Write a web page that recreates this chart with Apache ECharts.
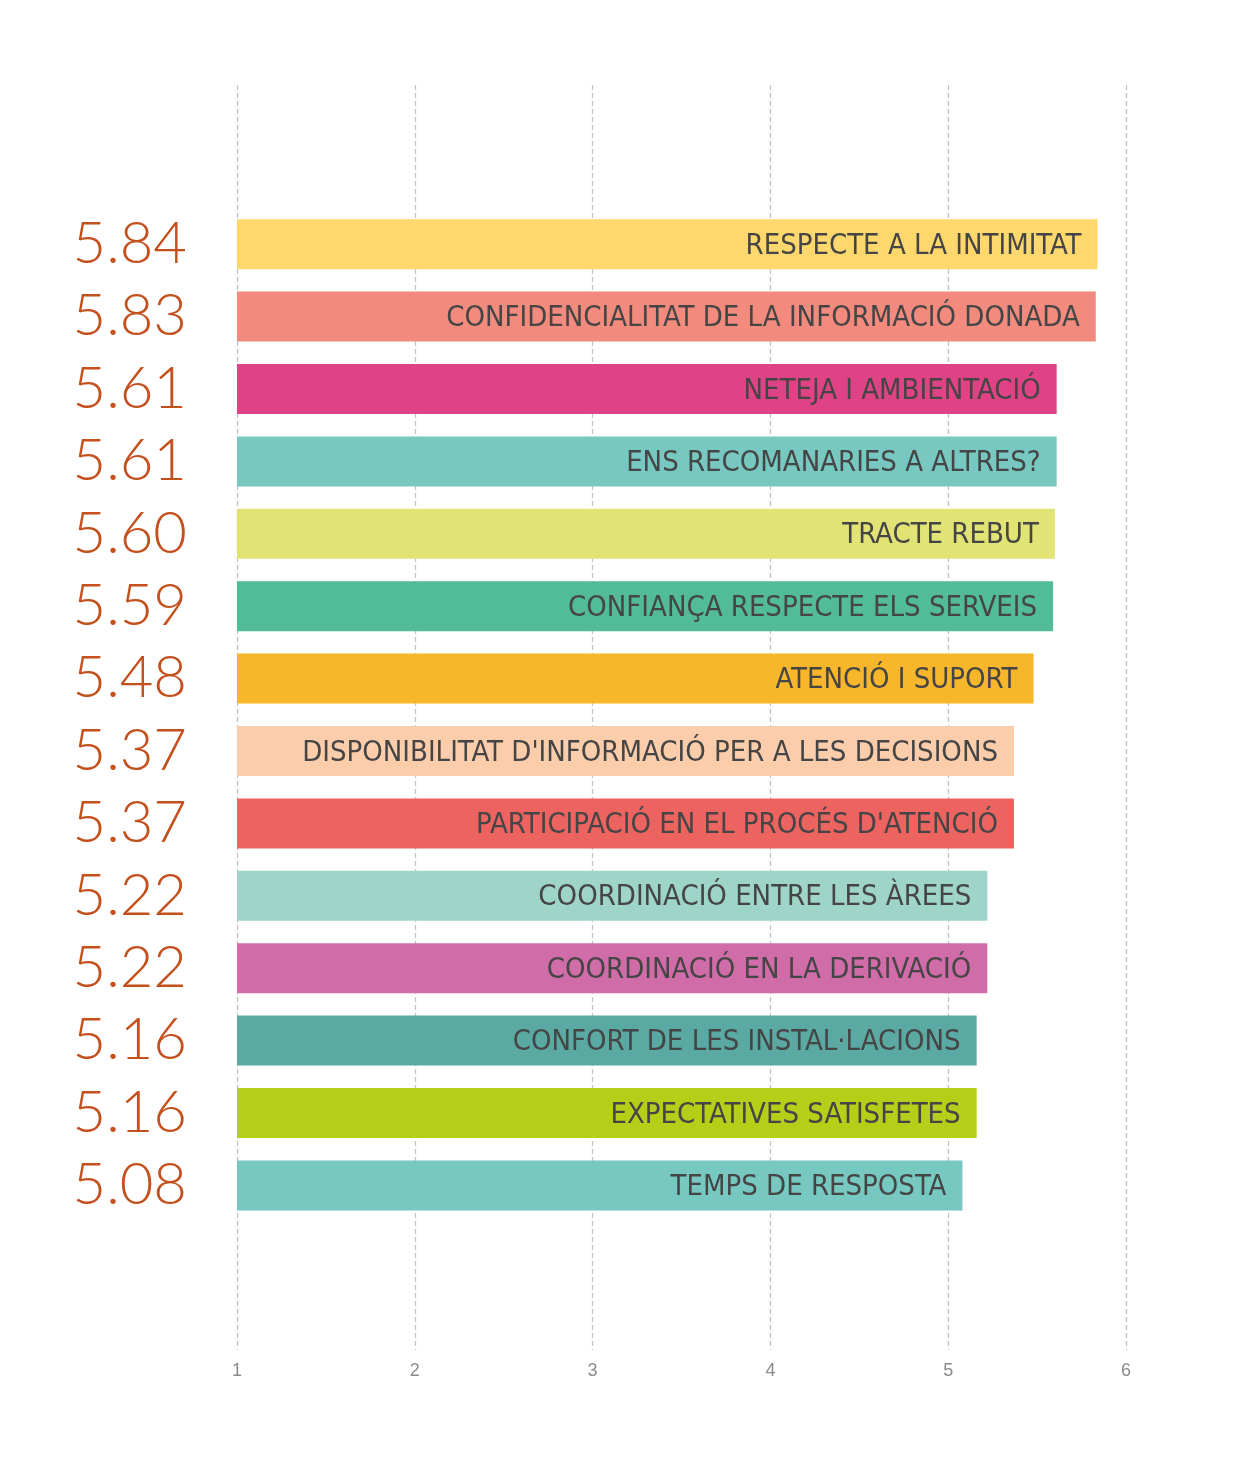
<!DOCTYPE html>
<html>
<head>
<meta charset="utf-8">
<script src="https://cdn.jsdelivr.net/npm/echarts@6/dist/echarts.min.js"></script>
<style>
html,body{margin:0;padding:0;background:#fff;}
#chart{width:1256px;height:1469px;}
</style>
</head>
<body>
<div id="chart"></div>
<script>
const categories = [
  "RESPECTE A LA INTIMITAT",
  "CONFIDENCIALITAT DE LA INFORMACIÓ DONADA",
  "NETEJA I AMBIENTACIÓ",
  "ENS RECOMANARIES A ALTRES?",
  "TRACTE REBUT",
  "CONFIANÇA RESPECTE ELS SERVEIS",
  "ATENCIÓ I SUPORT",
  "DISPONIBILITAT D'INFORMACIÓ PER A LES DECISIONS",
  "PARTICIPACIÓ EN EL PROCÉS D'ATENCIÓ",
  "COORDINACIÓ ENTRE LES ÀREES",
  "COORDINACIÓ EN LA DERIVACIÓ",
  "CONFORT DE LES INSTAL·LACIONS",
  "EXPECTATIVES SATISFETES",
  "TEMPS DE RESPOSTA"
];
const values = [5.84, 5.83, 5.61, 5.61, 5.60, 5.59, 5.48, 5.37, 5.37, 5.22, 5.22, 5.16, 5.16, 5.08];
const colors = ["#fed76d","#f28b7d","#e04385","#76c8c0","#e1e474","#52bb98","#f8b62a","#fbcdab","#ec6360","#9fd4c9","#d06ca8","#5aa9a3","#b5cf18","#76c8c0"];
const xTicks = [1, 2, 3, 4, 5, 6];

const chart = echarts.init(document.getElementById('chart'), null, {renderer: 'canvas'});
chart.setOption({
  backgroundColor: '#ffffff',
  animation: false,
  grid: [
    {left: 237, right: 130, top: 85, bottom: 119},
    {left: 237, right: 130, top: 208, height: 1013.6}
  ],
  xAxis: [
    {
      gridIndex: 0, type: 'value', min: xTicks[0], max: xTicks[xTicks.length-1], interval: 1,
      axisLine: {show: false}, axisTick: {show: false},
      axisLabel: {color: '#8a8a8a', fontSize: 18, margin: 12, fontFamily: 'Liberation Sans'},
      splitLine: {show: true, lineStyle: {color: '#c4c4c4', type: [5, 3], width: 1.3}}
    },
    {
      gridIndex: 1, type: 'value', min: xTicks[0], max: xTicks[xTicks.length-1], interval: 1,
      show: false
    }
  ],
  yAxis: [
    {gridIndex: 0, type: 'category', data: [''], show: false},
    {
      gridIndex: 1, type: 'category', data: categories, inverse: true,
      axisLine: {show: false}, axisTick: {show: false}, splitLine: {show: false},
      axisLabel: {
        interval: 0, hideOverlap: false,
        margin: 50, color: '#c4501e', fontSize: 58, fontWeight: 300, fontFamily: 'Lato',
        padding: [8, 0, 0, 0],
        formatter: function (v, i) { return values[i].toFixed(2); }
      }
    }
  ],
  series: [{
    type: 'bar', xAxisIndex: 1, yAxisIndex: 1,
    barWidth: 50,
    clip: true,
    data: values.map((v, i) => ({value: v, itemStyle: {color: colors[i]}})),
    label: {
      show: true, position: 'insideRight', distance: 16, offset: [0, 2],
      color: '#454545', fontSize: 29, fontFamily: 'DejaVu Sans Condensed',
      formatter: function (p) { return categories[p.dataIndex]; }
    }
  }]
});
</script>
</body>
</html>
